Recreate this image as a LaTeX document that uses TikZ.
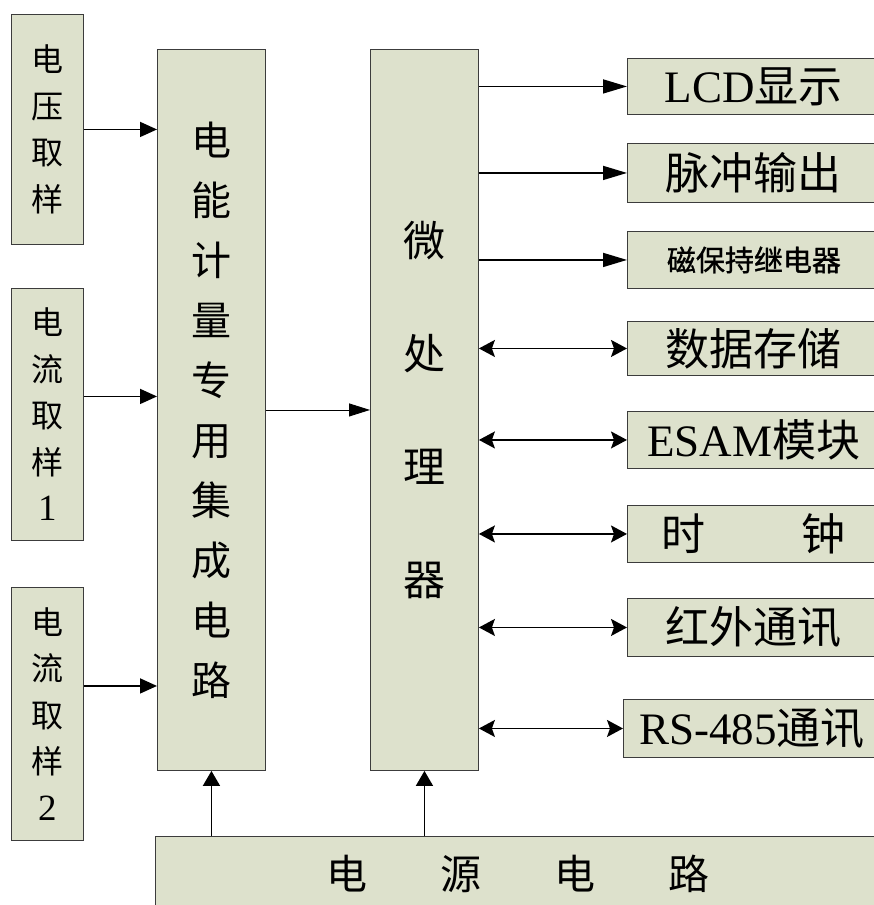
\documentclass[tikz,border=0pt]{standalone}
\usepackage{fontspec}
\setmainfont{Liberation Serif}
\newfontfamily\cjk{Noto Sans CJK SC}
\newfontfamily\cjkheavy[FakeBold=1.2]{Noto Sans CJK SC}
\usetikzlibrary{arrows.meta}
\definecolor{boxfill}{RGB}{221,225,204}
\definecolor{boxline}{RGB}{60,60,60}
\tikzset{
  blk/.style={draw=boxline, fill=boxfill, line width=0.9pt, inner sep=0pt, anchor=north west, align=center},
  leftbox/.style={blk, minimum width=72pt, font={\cjk\fontsize{32}{46.5}\selectfont}},
  rbox/.style={blk, minimum width=253pt, text width=246pt, font={\cjk\fontsize{44}{48}\selectfont}},
  arrA/.style={line width=1.6pt, -{Triangle[length=17pt,width=15pt]}},
  arrR/.style={line width=1.6pt, -{Triangle[length=24pt,width=14pt]}},
  arrB/.style={line width=1.6pt, {Stealth[length=16pt,width=17pt,inset=3pt]}-{Stealth[length=16pt,width=17pt,inset=3pt]}},
  arrU/.style={line width=1.6pt, -{Triangle[length=15pt,width=17pt]}},
  arrT/.style={line width=0.9pt, -{Triangle[length=21pt,width=13pt]}},
}
\newcommand{\lat}[1]{{\rmfamily\fontsize{45}{48}\selectfont #1}}
\begin{document}
\begin{tikzpicture}[x=1pt,y=-1pt]
\useasboundingbox (0,0) rectangle (873,905);
% left sample boxes
\node[leftbox, minimum height=230pt] (vs) at (11,14) {电\\压\\取\\样};
\node[leftbox, minimum height=252pt] (cs1) at (11,288) {电\\流\\取\\样\\{\rmfamily\fontsize{37}{46.5}\selectfont 1}};
\node[leftbox, minimum height=253pt] (cs2) at (11,587) {电\\流\\取\\样\\{\rmfamily\fontsize{37}{46.5}\selectfont 2}};
% metering IC
\node[blk, minimum width=108pt, minimum height=721pt, font={\cjk\fontsize{40}{60}\selectfont}] (ic) at (157,49)
  {电\\能\\计\\量\\专\\用\\集\\成\\电\\路};
% micro processor
\node[blk, minimum width=108pt, minimum height=721pt, font={\cjk\fontsize{42}{113}\selectfont}] (mc) at (370,49)
  {微\\处\\理\\器};
% right boxes
\node[rbox, minimum height=56pt] (lcd) at (627,58) {\lat{LCD}显示};
\node[rbox, minimum height=59pt] (pulse) at (627,143) {脉冲输出};
\node[rbox, minimum height=57pt, font={\cjkheavy\fontsize{29}{32}\selectfont}] (relay) at (627,231) {磁保持继电器};
\node[rbox, minimum height=54pt] (store) at (627,321) {数据存储};
\node[rbox, minimum height=57pt] (esam) at (627,411) {\lat{ESAM}模块};
\node[rbox, minimum height=57pt] (clk) at (627,505) {时\hspace{96pt}钟};
\node[rbox, minimum height=58pt] (ir) at (627,598) {红外通讯};
\node[blk, minimum width=257pt, text width=250pt, minimum height=58pt, font={\cjk\fontsize{44}{48}\selectfont}] (rs) at (623,699) {\lat{RS-485}通讯};
% power
\node[blk, minimum width=725pt, minimum height=75pt, font={\cjk\fontsize{41}{48}\selectfont}] (pw) at (155,836)
  {电\hspace{73pt}源\hspace{73pt}电\hspace{73pt}路};
% arrows into IC
\draw[arrA] (vs.east) -- (vs.east -| ic.west);
\draw[arrA] ([yshift=18pt]cs1.east) -- ([yshift=18pt]cs1.east -| ic.west);
\draw[arrA] ([yshift=28pt]cs2.east) -- ([yshift=28pt]cs2.east -| ic.west);
% IC to micro
\draw[arrT] (ic.east) -- (mc.west);
% micro outputs
\draw[arrR] (mc.east |- lcd.west) -- (lcd.west);
\draw[arrR] (mc.east |- pulse.west) -- (pulse.west);
\draw[arrR] (mc.east |- relay.west) -- (relay.west);
\draw[arrB] (mc.east |- store.west) -- (store.west);
\draw[arrB] (mc.east |- esam.west) -- (esam.west);
\draw[arrB] (mc.east |- clk.west) -- (clk.west);
\draw[arrB] (mc.east |- ir.west) -- (ir.west);
\draw[arrB] (mc.east |- rs.west) -- (rs.west);
% power arrows
\draw[arrU] (ic.south |- pw.north) -- (ic.south);
\draw[arrU] (mc.south |- pw.north) -- (mc.south);
\end{tikzpicture}
\end{document}
